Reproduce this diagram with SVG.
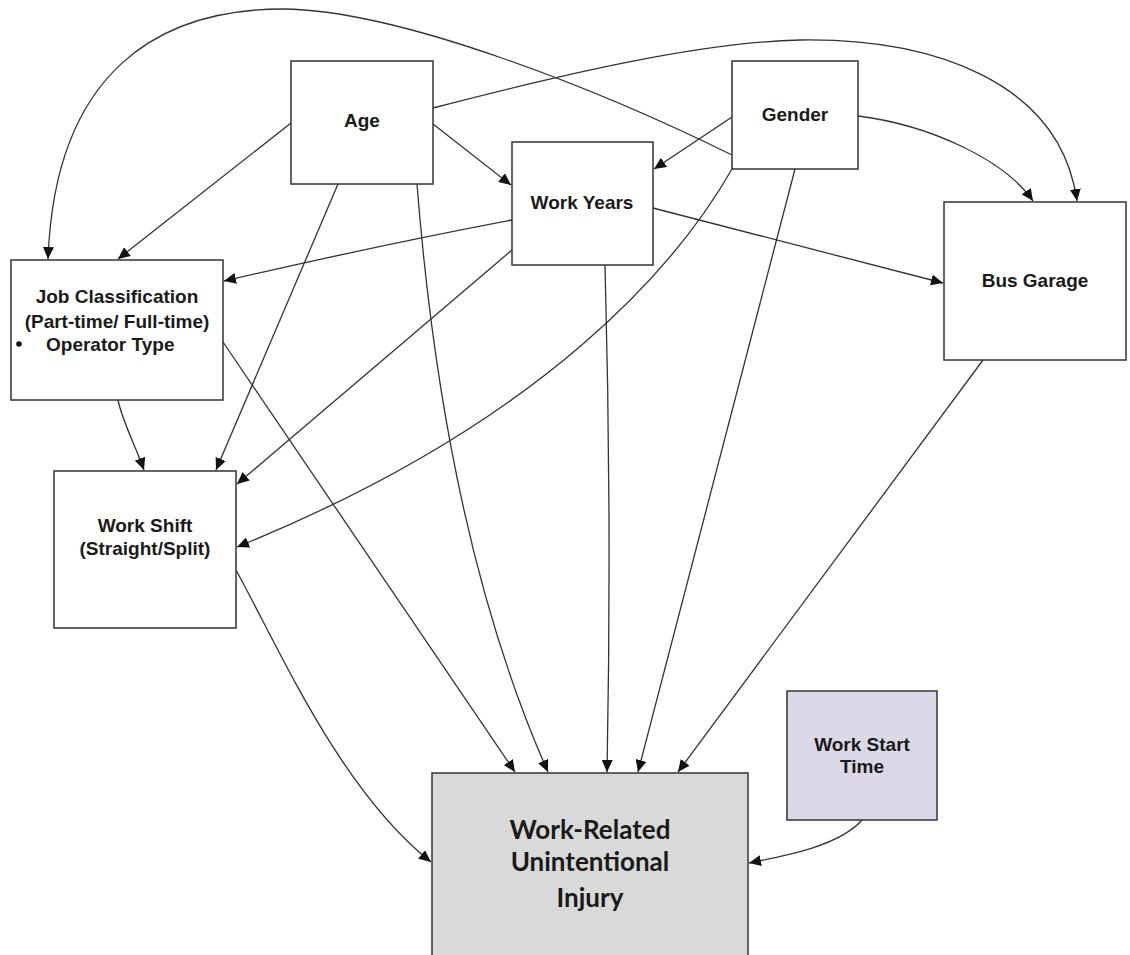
<svg xmlns="http://www.w3.org/2000/svg" width="1130" height="955" viewBox="0 0 1130 955">
<defs>
<marker id="arr" markerUnits="userSpaceOnUse" markerWidth="13" markerHeight="11" refX="12" refY="5.5" orient="auto">
<path d="M0,0 L12,5.5 L0,11 Z" fill="#111"/>
</marker>
<style>
.box{fill:#fff;stroke:#333;stroke-width:1.5}
.lbl{font-family:"Liberation Sans",Arial,sans-serif;font-weight:bold;font-size:19px;fill:#1a1a1a;text-anchor:middle}
.big{font-family:Lato,"Open Sans",sans-serif;font-weight:bold;font-size:26px;fill:#1a1a1a;text-anchor:middle}
.c{fill:none;stroke:#333;stroke-width:1.3;marker-end:url(#arr)}
</style>
</defs>
<rect width="1130" height="955" fill="#fff"/>
<g id="connectors">
<path class="c" d="M732,155 C600,90 400,10 283,9 C160,9 55,70 48,259"/>
<path class="c" d="M433,108 C560,75 700,42 800,40 C930,38 1060,80 1077,201"/>
<path class="c" d="M858,116 C930,125 1005,160 1033,201"/>
<path class="c" d="M291,123 L118,259"/>
<path class="c" d="M433,124 L511,185"/>
<path class="c" d="M732,117 L654,169"/>
<path class="c" d="M512,220 Q380,245 224,281"/>
<path class="c" d="M653,208 L943,283"/>
<path class="c" d="M512,250 L237,484"/>
<path class="c" d="M732,169 C680,260 550,420 237,547"/>
<path class="c" d="M338,184 L216,470"/>
<path class="c" d="M118,400 C122,420 135,445 144,470"/>
<path class="c" d="M223,342 L515,772"/>
<path class="c" d="M417,184 Q445,540 548,772"/>
<path class="c" d="M605,265 Q612,520 607,772"/>
<path class="c" d="M795,169 L638,772"/>
<path class="c" d="M983,360 L678,772"/>
<path class="c" d="M236,570 C280,650 340,790 431,862"/>
<path class="c" d="M862,820 C840,845 790,855 749,863"/>
</g>
<g id="age"><rect class="box" x="291" y="61" width="142" height="123"/><text class="lbl" x="362" y="127">Age</text></g>
<g id="gender"><rect class="box" x="732" y="61" width="126" height="108"/><text class="lbl" x="795" y="121">Gender</text></g>
<g id="workyears"><rect class="box" x="512" y="142" width="141" height="123"/><text class="lbl" x="582" y="209">Work Years</text></g>
<g id="busgarage"><rect class="box" x="944" y="202" width="182" height="158"/><text class="lbl" x="1035" y="287">Bus Garage</text></g>
<g id="jobclass"><rect class="box" x="11" y="260" width="212" height="140"/>
<text class="lbl" x="117" y="303">Job Classification</text>
<text class="lbl" x="117" y="328">(Part-time/ Full-time)</text>
<circle cx="19" cy="344" r="2.8" fill="#111"/>
<text class="lbl" x="46" y="351" style="text-anchor:start">Operator Type</text></g>
<g id="workshift"><rect class="box" x="54" y="471" width="182" height="157"/>
<text class="lbl" x="145" y="532">Work Shift</text>
<text class="lbl" x="145" y="555">(Straight/Split)</text></g>
<g id="workstart"><rect x="787" y="691" width="150" height="129" fill="#dcd8e8" stroke="#333" stroke-width="1.5"/>
<text class="lbl" x="862" y="751">Work Start</text>
<text class="lbl" x="862" y="773">Time</text></g>
<g id="injury"><rect x="432" y="773" width="316" height="200" fill="#d9d9d9" stroke="#333" stroke-width="1.5"/>
<text class="big" x="590" y="839">Work-Related</text>
<text class="big" x="590" y="871">Unintentional</text>
<text class="big" x="590" y="907">Injury</text></g>
</svg>
